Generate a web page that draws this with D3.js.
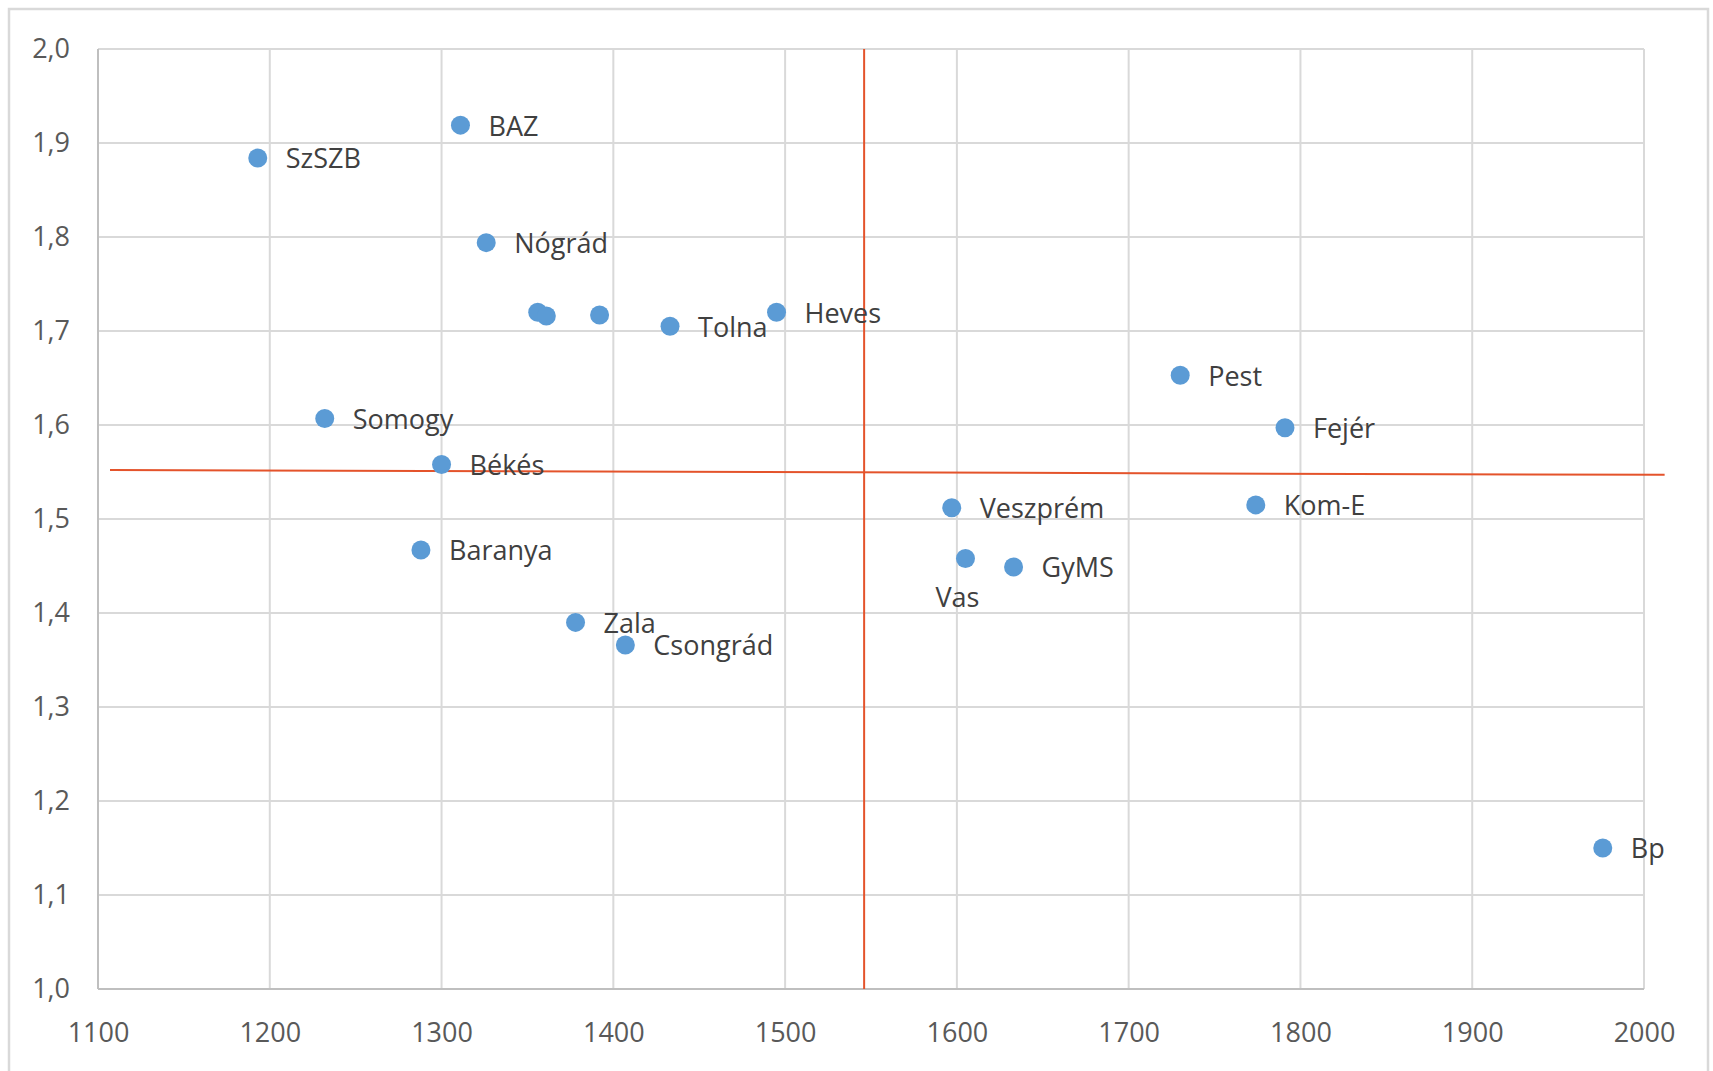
<!DOCTYPE html>
<html>
<head>
<meta charset="utf-8">
<script src="https://cdn.jsdelivr.net/npm/d3@7"></script>
<style>
  body { margin: 0; background: #fff; }
  .tick-label { font-family: 'Open Sans', sans-serif; font-size: 27px; fill: #595959; }
  .point-label { font-family: 'Open Sans', sans-serif; font-size: 27px; fill: #404040; }
</style>
</head>
<body>
<svg class="chart"></svg>
<script>
// county names ('' = point without label)
const counties = ['SzSZB', 'BAZ', 'Nógrád', '', '', '', 'Tolna', 'Heves', 'Somogy', 'Békés',
  'Baranya', 'Zala', 'Csongrád', 'Pest', 'Fejér', 'Kom-E', 'Veszprém', 'Vas', 'GyMS', 'Bp']
const xValues = [1193, 1311, 1326, 1356, 1361, 1392, 1433, 1495, 1232, 1300,
  1288, 1378, 1407, 1730, 1791, 1774, 1597, 1605, 1633, 1976]
const yValues = [1.884, 1.919, 1.794, 1.720, 1.716, 1.717, 1.705, 1.720, 1.607, 1.558,
  1.467, 1.390, 1.366, 1.653, 1.597, 1.515, 1.512, 1.458, 1.449, 1.150]
const labelsBelow = ['Vas']

const xTicks = [1100, 1200, 1300, 1400, 1500, 1600, 1700, 1800, 1900, 2000]
const yTicks = [1.0, 1.1, 1.2, 1.3, 1.4, 1.5, 1.6, 1.7, 1.8, 1.9, 2.0]

// red reference lines
const crossLines = [
  { x1: 1546, y1: 1.0, x2: 1546, y2: 2.0 },
  { x1: 1107, y1: 1.552, x2: 2012, y2: 1.547 }
]

const width = 1713
const height = 1071
const plotLeft = 98, plotRight = 1644, plotTop = 49, plotBottom = 989

const svg = d3.select('.chart').attr('width', width).attr('height', height)

svg.append('rect')
  .attr('x', 9).attr('y', 9)
  .attr('width', 1699).attr('height', 1080)
  .attr('fill', '#fff')
  .attr('stroke', '#d9d9d9')
  .attr('stroke-width', 2.5)

const x = d3.scaleLinear().domain([1100, 2000]).range([plotLeft, plotRight])
const y = d3.scaleLinear().domain([1, 2]).range([plotBottom, plotTop])

// gridlines
svg.append('g').selectAll('line')
    .data(xTicks.slice(1))
  .enter().append('line')
    .attr('stroke', '#d9d9d9').attr('stroke-width', 2)
    .attr('x1', d => x(d)).attr('x2', d => x(d))
    .attr('y1', y(1)).attr('y2', y(2))

svg.append('g').selectAll('line')
    .data(yTicks.slice(1))
  .enter().append('line')
    .attr('stroke', '#d9d9d9').attr('stroke-width', 2)
    .attr('x1', x(1100)).attr('x2', x(2000))
    .attr('y1', d => y(d)).attr('y2', d => y(d))

// axes lines
svg.append('line')
  .attr('stroke', '#bfbfbf').attr('stroke-width', 2)
  .attr('x1', x(1100)).attr('x2', x(1100)).attr('y1', y(1)).attr('y2', y(2))
svg.append('line')
  .attr('stroke', '#bfbfbf').attr('stroke-width', 2)
  .attr('x1', x(1100)).attr('x2', x(2000)).attr('y1', y(1)).attr('y2', y(1))

const xAxis = svg.append('g')
  .attr('transform', `translate(0,${plotBottom})`)
  .call(d3.axisBottom(x).tickValues(xTicks).tickFormat(d3.format('d')).tickSize(0).tickPadding(34))
xAxis.select('.domain').remove()
xAxis.selectAll('text').attr('class', 'tick-label')
xAxis.attr('font-size', null).attr('font-family', null)

const yAxis = svg.append('g')
  .attr('transform', `translate(${plotLeft},0)`)
  .call(d3.axisLeft(y).tickValues(yTicks).tickFormat(d => d3.format('.1f')(d).replace('.', ',')).tickSize(0).tickPadding(28))
yAxis.select('.domain').remove()
yAxis.selectAll('text').attr('class', 'tick-label')
yAxis.attr('font-size', null).attr('font-family', null)

// red lines
svg.append('g').selectAll('line')
    .data(crossLines)
  .enter().append('line')
    .attr('stroke', '#e4532b').attr('stroke-width', 2)
    .attr('x1', d => x(d.x1)).attr('y1', d => y(d.y1))
    .attr('x2', d => x(d.x2)).attr('y2', d => y(d.y2))

const points = counties.map((name, i) => ({ name, xv: xValues[i], yv: yValues[i] }))

svg.append('g').selectAll('circle')
    .data(points)
  .enter().append('circle')
    .attr('cx', d => x(d.xv))
    .attr('cy', d => y(d.yv))
    .attr('r', 9.5)
    .attr('fill', '#5b9bd5')

svg.append('g').selectAll('text')
    .data(points.filter(d => d.name))
  .enter().append('text')
    .attr('class', 'point-label')
    .text(d => d.name)
    .attr('x', d => labelsBelow.includes(d.name) ? x(d.xv) - 8 : x(d.xv) + 28)
    .attr('y', d => labelsBelow.includes(d.name) ? y(d.yv) + 39 : y(d.yv) + 1)
    .attr('dy', '0.35em')
    .attr('text-anchor', d => labelsBelow.includes(d.name) ? 'middle' : 'start')
</script>
</body>
</html>
